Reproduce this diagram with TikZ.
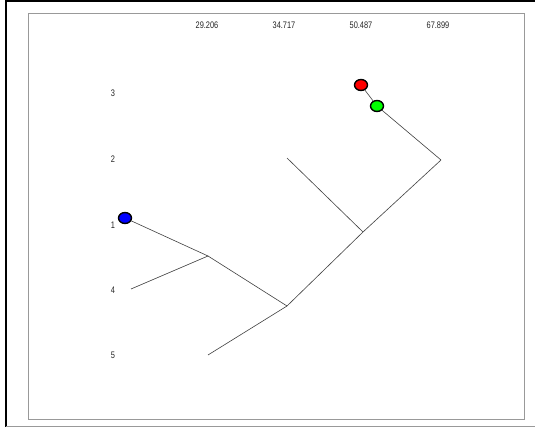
\documentclass[tikz,border=0pt]{standalone}
\usepackage{fontspec}
\usepackage{graphicx}
\setmainfont{Liberation Sans}
\usetikzlibrary{shapes.geometric}
\newcommand\narrowtxt[1]{\scalebox{0.78}[1]{#1}}
\begin{document}
\begin{tikzpicture}[x=1pt,y=-1pt,
  lbl/.style={font=\fontsize{9.5}{11}\selectfont, text=black!85, inner sep=0pt},
  edge/.style={draw=black!75, line width=0.6pt},
  leafdot/.style={ellipse, draw=black, line width=1.4pt, minimum width=13pt, minimum height=11pt, inner sep=0pt}]
\useasboundingbox (0,0) rectangle (535,427);
\fill[white] (0,0) rectangle (535,427);
% outer frame
\draw[black, line width=2.2pt] (6,0) -- (6,427);
\draw[black, line width=2pt] (5,1.5) -- (535,1.5);
\draw[black!40, line width=1pt] (6,426) -- (535,426);
% inner frame
\draw[black!40, line width=1pt] (28,14) rectangle (524,419);
% axis labels
\node[lbl] (t1) at (207,25) {\narrowtxt{29.206}};
\node[lbl] (t2) at (284,25) {\narrowtxt{34.717}};
\node[lbl] (t3) at (361,25) {\narrowtxt{50.487}};
\node[lbl] (t4) at (438,25) {\narrowtxt{67.899}};
\node[lbl] (r3) at (113,93) {\narrowtxt{3}};
\node[lbl] (r2) at (113,159) {\narrowtxt{2}};
\node[lbl] (r1) at (113,225) {\narrowtxt{1}};
\node[lbl] (r4) at (113,290) {\narrowtxt{4}};
\node[lbl] (r5) at (113,355) {\narrowtxt{5}};
% tree points
\coordinate (m1) at (208,256);
\coordinate (m2) at (287,306);
\coordinate (m3) at (363,232);
\coordinate (m4) at (441,160);
\coordinate (l4) at (131,289);
\coordinate (l5) at (208,355);
\coordinate (l2) at (287,158);
\node[leafdot, fill=blue] (l1) at (125,218) {};
\node[leafdot, fill=red] (l3) at (361,85) {};
\node[leafdot, fill=green] (g3) at (377,106) {};
% edges
\draw[edge] (l1) -- (m1);
\draw[edge] (l4) -- (m1);
\draw[edge] (m1) -- (m2);
\draw[edge] (l5) -- (m2);
\draw[edge] (m2) -- (m3);
\draw[edge] (l2) -- (m3);
\draw[edge] (m3) -- (m4);
\draw[edge] (g3) -- (m4);
\draw[edge] (l3) -- (g3);
\end{tikzpicture}
\end{document}
